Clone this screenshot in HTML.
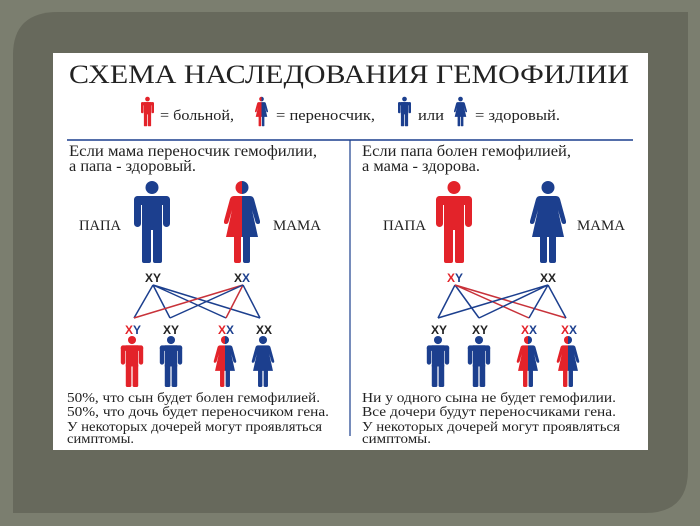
<!DOCTYPE html>
<html><head><meta charset="utf-8"><style>
html,body{margin:0;padding:0;background:#7b7e6f;}
svg{display:block;}
text{font-family:"Liberation Serif",serif;fill:#222;}
.xy{font-family:"Liberation Sans",sans-serif;font-weight:bold;font-size:12px;}
</style></head><body>
<svg width="700" height="526" viewBox="0 0 700 526" xmlns="http://www.w3.org/2000/svg" xmlns:xlink="http://www.w3.org/1999/xlink">
<defs>
<g id="mshape">
<circle cx="18" cy="6.5" r="6.5"/>
<rect x="0" y="15" width="36" height="9" rx="4.5"/>
<rect x="0" y="15" width="7" height="31" rx="3.5"/>
<rect x="29" y="15" width="7" height="31" rx="3.5"/>
<rect x="8" y="15" width="20" height="34"/>
<rect x="8" y="45" width="9" height="37" rx="2"/>
<rect x="19" y="45" width="9" height="37" rx="2"/>
</g>
<g id="wshape">
<circle cx="18" cy="6.5" r="6.5"/>
<path d="M10 15 H26 Q29 15 30 18 L36 40 Q36.5 43 34 43 Q32 43 31.5 41 L28 29 L34 56 H2 L8 29 L4.5 41 Q4 43 2 43 Q-0.5 43 0 40 L6 18 Q7 15 10 15 Z"/>
<rect x="10" y="54" width="7" height="28" rx="2"/>
<rect x="19" y="54" width="7" height="28" rx="2"/>
</g>
<clipPath id="L"><rect x="-5" y="-5" width="23" height="100"/></clipPath>
<clipPath id="R"><rect x="18" y="-5" width="30" height="100"/></clipPath>
<symbol id="manB" viewBox="0 0 36 82"><use xlink:href="#mshape" fill="#1c3f8e"/></symbol>
<symbol id="manR" viewBox="0 0 36 82"><use xlink:href="#mshape" fill="#e3232a"/></symbol>
<symbol id="womB" viewBox="0 0 36 82"><use xlink:href="#wshape" fill="#1c3f8e"/></symbol>
<symbol id="womC" viewBox="0 0 36 82"><use xlink:href="#wshape" fill="#e3232a" clip-path="url(#L)"/><use xlink:href="#wshape" fill="#1c3f8e" clip-path="url(#R)"/></symbol>
</defs>
<path d="M58 12 H688 V470 Q688 513 645 513 H13 V55 Q13 12 58 12 Z" fill="#67695c"/>
<rect x="53" y="53" width="595" height="397" fill="#fff"/>
<text x="69" y="83" font-size="26" textLength="560" lengthAdjust="spacingAndGlyphs" fill="#111">СХЕМА НАСЛЕДОВАНИЯ ГЕМОФИЛИИ</text>
<!-- legend -->
<use xlink:href="#manR" x="141" y="94" width="13" height="35"/>
<text x="160" y="120" font-size="15" textLength="74" lengthAdjust="spacingAndGlyphs">= больной,</text>
<use xlink:href="#womC" x="255" y="94" width="13" height="35"/>
<text x="276" y="120" font-size="15" textLength="99" lengthAdjust="spacingAndGlyphs">= переносчик,</text>
<use xlink:href="#manB" x="398" y="94" width="13" height="35"/>
<text x="418" y="120" font-size="15" textLength="26" lengthAdjust="spacingAndGlyphs">или</text>
<use xlink:href="#womB" x="454" y="94" width="13" height="35"/>
<text x="475" y="120" font-size="15" textLength="85" lengthAdjust="spacingAndGlyphs">= здоровый.</text>
<line x1="67" y1="140" x2="633" y2="140" stroke="#1c3f8e" stroke-width="1.5"/>
<line x1="350" y1="140" x2="350" y2="436" stroke="#1c3f8e" stroke-width="1.2"/>
<!-- left headings -->
<text x="69" y="156" font-size="16" textLength="248" lengthAdjust="spacingAndGlyphs">Если мама переносчик гемофилии,</text>
<text x="69" y="171" font-size="16" textLength="127" lengthAdjust="spacingAndGlyphs">а папа - здоровый.</text>
<text x="362" y="156" font-size="16" textLength="209" lengthAdjust="spacingAndGlyphs">Если папа болен гемофилией,</text>
<text x="362" y="171" font-size="16" textLength="118" lengthAdjust="spacingAndGlyphs">а мама - здорова.</text>
<!-- left parents -->
<text x="79" y="230" font-size="15" textLength="42" lengthAdjust="spacingAndGlyphs">ПАПА</text>
<text x="273" y="230" font-size="15" textLength="48" lengthAdjust="spacingAndGlyphs">МАМА</text>
<use xlink:href="#manB" x="134" y="181" width="36" height="82"/>
<use xlink:href="#womC" x="224" y="181" width="36" height="82"/>
<text class="xy" x="145" y="282" fill="#1c3f8e">XY</text>
<text class="xy" x="234" y="282" fill="#e3232a">X<tspan fill="#1c3f8e">X</tspan></text>
<g stroke-width="1.5" fill="none">
<path d="M153 285 L134 318 M153 285 L170 318 M153 285 L226 318 M153 285 L260 318" stroke="#1c3f8e"/>
<path d="M243 285 L134 318 M243 285 L226 318" stroke="#c8323a"/>
<path d="M243 285 L170 318 M243 285 L260 318" stroke="#1c3f8e"/>
</g>
<text class="xy" x="125" y="334" font-size="13"><tspan fill="#e3232a">X</tspan><tspan fill="#1c3f8e">Y</tspan></text>
<text class="xy" x="163" y="334" fill="#1c3f8e">XY</text>
<text class="xy" x="218" y="334"><tspan fill="#e3232a">X</tspan><tspan fill="#1c3f8e">X</tspan></text>
<text class="xy" x="256" y="334" fill="#1c3f8e">XX</text>
<use xlink:href="#manR" x="120" y="336" width="24" height="51"/>
<use xlink:href="#manB" x="159" y="336" width="24" height="51"/>
<use xlink:href="#womC" x="213" y="336" width="24" height="51"/>
<use xlink:href="#womB" x="251" y="336" width="24" height="51"/>
<!-- right parents -->
<text x="383" y="230" font-size="15" textLength="43" lengthAdjust="spacingAndGlyphs">ПАПА</text>
<text x="577" y="230" font-size="15" textLength="48" lengthAdjust="spacingAndGlyphs">МАМА</text>
<use xlink:href="#manR" x="436" y="181" width="36" height="82"/>
<use xlink:href="#womB" x="530" y="181" width="36" height="82"/>
<text class="xy" x="447" y="282"><tspan fill="#e3232a">X</tspan><tspan fill="#1c3f8e">Y</tspan></text>
<text class="xy" x="540" y="282" fill="#1c3f8e">XX</text>
<g stroke-width="1.5" fill="none">
<path d="M455 285 L438 318 M455 285 L479 318" stroke="#1c3f8e"/>
<path d="M455 285 L529 318 M455 285 L566 318" stroke="#c8323a"/>
<path d="M548 285 L438 318 M548 285 L479 318 M548 285 L529 318 M548 285 L566 318" stroke="#1c3f8e"/>
</g>
<text class="xy" x="431" y="334" fill="#1c3f8e">XY</text>
<text class="xy" x="472" y="334" fill="#1c3f8e">XY</text>
<text class="xy" x="521" y="334"><tspan fill="#e3232a">X</tspan><tspan fill="#1c3f8e">X</tspan></text>
<text class="xy" x="561" y="334"><tspan fill="#e3232a">X</tspan><tspan fill="#1c3f8e">X</tspan></text>
<use xlink:href="#manB" x="426" y="336" width="24" height="51"/>
<use xlink:href="#manB" x="467" y="336" width="24" height="51"/>
<use xlink:href="#womC" x="516" y="336" width="24" height="51"/>
<use xlink:href="#womC" x="556" y="336" width="24" height="51"/>
<!-- bottom texts -->
<g font-size="14">
<text x="67" y="402" textLength="253" lengthAdjust="spacingAndGlyphs">50%, что сын будет болен гемофилией.</text>
<text x="67" y="416" textLength="262" lengthAdjust="spacingAndGlyphs">50%, что дочь будет переносчиком гена.</text>
<text x="67" y="431" textLength="255" lengthAdjust="spacingAndGlyphs">У некоторых дочерей могут проявляться</text>
<text x="67" y="443" textLength="67" lengthAdjust="spacingAndGlyphs">симптомы.</text>
<text x="362" y="402" textLength="254" lengthAdjust="spacingAndGlyphs">Ни у одного сына не будет гемофилии.</text>
<text x="362" y="416" textLength="254" lengthAdjust="spacingAndGlyphs">Все дочери будут переносчиками гена.</text>
<text x="362" y="431" textLength="258" lengthAdjust="spacingAndGlyphs">У некоторых дочерей могут проявляться</text>
<text x="362" y="443" textLength="69" lengthAdjust="spacingAndGlyphs">симптомы.</text>
</g>
</svg>
</body></html>
